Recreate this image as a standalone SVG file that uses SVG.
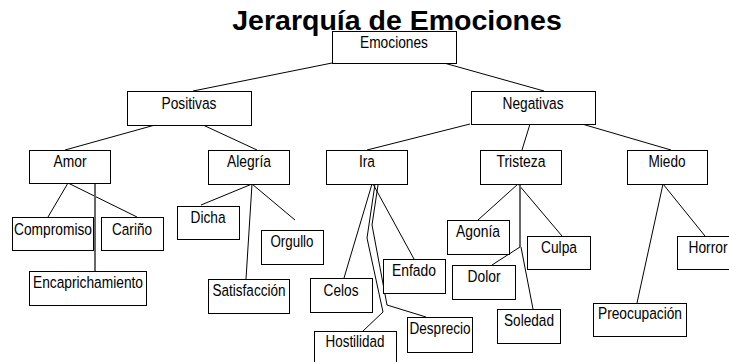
<svg xmlns="http://www.w3.org/2000/svg" width="729" height="362" viewBox="0 0 729 362">
<style>
.box{fill:#fff;stroke:#000;stroke-width:1}
.lbl{font-family:"Liberation Sans Narrow","Liberation Sans",Arial,sans-serif;font-size:16.8px;fill:#000;text-anchor:middle}
.c{fill:none;stroke:#000;stroke-width:1}
.g{fill:none;stroke:#666;stroke-width:2}
.title{font-family:"Liberation Sans",Arial,sans-serif;font-size:28.5px;font-weight:bold;fill:#000;text-anchor:middle}
</style>
<rect width="729" height="362" fill="#fff"/>
<g id="connectors">
<line class="c" x1="332" y1="63" x2="193" y2="91"/>
<line class="c" x1="444" y1="63" x2="544" y2="91"/>
<line class="c" x1="155" y1="125" x2="65" y2="150"/>
<line class="c" x1="203" y1="125" x2="257" y2="150"/>
<line class="c" x1="470" y1="124" x2="367" y2="150"/>
<line class="c" x1="530" y1="124" x2="522" y2="150"/>
<line class="c" x1="582" y1="124" x2="671" y2="150"/>
<line class="c" x1="68" y1="183" x2="48" y2="217"/>
<line class="c" x1="68" y1="183" x2="137" y2="217"/>
<line class="g" x1="95" y1="183" x2="95" y2="271"/>
<line class="c" x1="252" y1="184" x2="201" y2="205"/>
<line class="c" x1="252" y1="184" x2="295" y2="220"/>
<line class="c" x1="252" y1="184" x2="246" y2="279"/>
<line class="c" x1="372" y1="184" x2="344" y2="278"/>
<line class="c" x1="373" y1="184" x2="414" y2="259"/>
<polyline class="c" points="375,184 367,238 383,312 363,331"/>
<polyline class="c" points="378,185 372,225 387,305 426,317"/>
<line class="c" x1="518" y1="184" x2="478" y2="220"/>
<line class="c" x1="518" y1="184" x2="562" y2="236"/>
<line class="g" x1="520" y1="184" x2="520" y2="247"/>
<line class="c" x1="520" y1="247" x2="492" y2="265"/>
<line class="c" x1="521" y1="247" x2="533" y2="309"/>
<line class="c" x1="663" y1="184" x2="705" y2="236"/>
<line class="c" x1="663" y1="184" x2="637" y2="303"/>
</g>
<g id="n-emociones"><rect class="box" x="332.5" y="31.5" width="124" height="32"/><text class="lbl" x="394" y="48" textLength="68" lengthAdjust="spacingAndGlyphs">Emociones</text></g>
<g id="n-positivas"><rect class="box" x="127.5" y="91.5" width="124" height="34"/><text class="lbl" x="189" y="109" textLength="55" lengthAdjust="spacingAndGlyphs">Positivas</text></g>
<g id="n-negativas"><rect class="box" x="471.5" y="91.5" width="124" height="33"/><text class="lbl" x="533" y="109" textLength="61" lengthAdjust="spacingAndGlyphs">Negativas</text></g>
<g id="n-amor"><rect class="box" x="29.5" y="150.5" width="81" height="33"/><text class="lbl" x="70" y="167" textLength="33" lengthAdjust="spacingAndGlyphs">Amor</text></g>
<g id="n-alegria"><rect class="box" x="208.5" y="150.5" width="81" height="34"/><text class="lbl" x="249" y="167" textLength="44" lengthAdjust="spacingAndGlyphs">Alegría</text></g>
<g id="n-ira"><rect class="box" x="326.5" y="150.5" width="81" height="34"/><text class="lbl" x="367" y="167" textLength="16" lengthAdjust="spacingAndGlyphs">Ira</text></g>
<g id="n-tristeza"><rect class="box" x="480.5" y="150.5" width="81" height="34"/><text class="lbl" x="521" y="167" textLength="49" lengthAdjust="spacingAndGlyphs">Tristeza</text></g>
<g id="n-miedo"><rect class="box" x="627.5" y="150.5" width="80" height="34"/><text class="lbl" x="667" y="167" textLength="37" lengthAdjust="spacingAndGlyphs">Miedo</text></g>
<g id="n-compromiso"><rect class="box" x="12.5" y="217.5" width="81" height="33"/><text class="lbl" x="53" y="235" textLength="78" lengthAdjust="spacingAndGlyphs">Compromiso</text></g>
<g id="n-carino"><rect class="box" x="101.5" y="217.5" width="62" height="33"/><text class="lbl" x="132" y="235" textLength="40" lengthAdjust="spacingAndGlyphs">Cariño</text></g>
<g id="n-encaprichamiento"><rect class="box" x="29.5" y="271.5" width="117" height="34"/><text class="lbl" x="88" y="288" textLength="110" lengthAdjust="spacingAndGlyphs">Encaprichamiento</text></g>
<g id="n-dicha"><rect class="box" x="177.5" y="206.5" width="62" height="33"/><text class="lbl" x="208" y="223" textLength="35" lengthAdjust="spacingAndGlyphs">Dicha</text></g>
<g id="n-orgullo"><rect class="box" x="261.5" y="230.5" width="62" height="34"/><text class="lbl" x="292" y="247" textLength="43" lengthAdjust="spacingAndGlyphs">Orgullo</text></g>
<g id="n-satisfaccion"><rect class="box" x="208.5" y="279.5" width="81" height="34"/><text class="lbl" x="249" y="296" textLength="73" lengthAdjust="spacingAndGlyphs">Satisfacción</text></g>
<g id="n-celos"><rect class="box" x="310.5" y="278.5" width="62" height="34"/><text class="lbl" x="341" y="296" textLength="35" lengthAdjust="spacingAndGlyphs">Celos</text></g>
<g id="n-enfado"><rect class="box" x="383.5" y="259.5" width="62" height="34"/><text class="lbl" x="414" y="276" textLength="44" lengthAdjust="spacingAndGlyphs">Enfado</text></g>
<g id="n-hostilidad"><rect class="box" x="314.5" y="331.5" width="82" height="34"/><text class="lbl" x="355" y="347" textLength="59" lengthAdjust="spacingAndGlyphs">Hostilidad</text></g>
<g id="n-desprecio"><rect class="box" x="407.5" y="317.5" width="65" height="35"/><text class="lbl" x="440" y="334" textLength="61" lengthAdjust="spacingAndGlyphs">Desprecio</text></g>
<g id="n-agonia"><rect class="box" x="447.5" y="220.5" width="62" height="34"/><text class="lbl" x="478" y="237" textLength="44" lengthAdjust="spacingAndGlyphs">Agonía</text></g>
<g id="n-culpa"><rect class="box" x="527.5" y="236.5" width="63" height="33"/><text class="lbl" x="559" y="253" textLength="36" lengthAdjust="spacingAndGlyphs">Culpa</text></g>
<g id="n-dolor"><rect class="box" x="452.5" y="265.5" width="63" height="34"/><text class="lbl" x="484" y="282" textLength="33" lengthAdjust="spacingAndGlyphs">Dolor</text></g>
<g id="n-soledad"><rect class="box" x="497.5" y="309.5" width="63" height="34"/><text class="lbl" x="529" y="326" textLength="50" lengthAdjust="spacingAndGlyphs">Soledad</text></g>
<g id="n-preocupacion"><rect class="box" x="593.5" y="303.5" width="93" height="33"/><text class="lbl" x="640" y="319" textLength="84" lengthAdjust="spacingAndGlyphs">Preocupación</text></g>
<g id="n-horror"><rect class="box" x="677.5" y="236.5" width="62" height="33"/><text class="lbl" x="708" y="253" textLength="39" lengthAdjust="spacingAndGlyphs">Horror</text></g>
<text id="title" class="title" x="397" y="30">Jerarquía de Emociones</text>
</svg>
